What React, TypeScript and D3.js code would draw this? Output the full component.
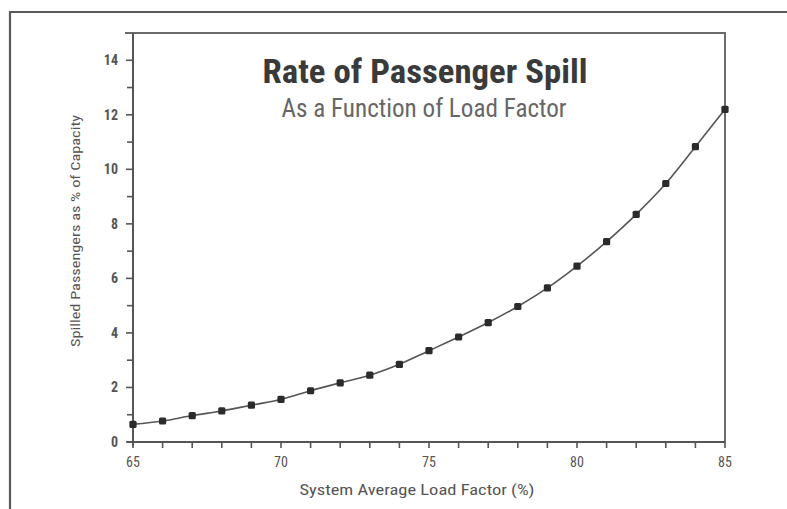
import React from "react";
import { scaleLinear, line, curveMonotoneX, range } from "d3";

// load factor (%) and spilled passengers (% of capacity)
const loadFactor = [65, 66, 67, 68, 69, 70, 71, 72, 73, 74, 75, 76, 77, 78, 79, 80, 81, 82, 83, 84, 85];
const spill = [0.65, 0.77, 0.97, 1.14, 1.35, 1.56, 1.88, 2.17, 2.45, 2.85, 3.35, 3.85, 4.38, 4.97, 5.65, 6.45, 7.35, 8.35, 9.48, 10.83, 12.2];

const xTickLabels = [65, 70, 75, 80, 85];
const yTickLabels = [0, 2, 4, 6, 8, 10, 12, 14];

const title = "Rate of Passenger Spill";
const subtitle = "As a Function of Load Factor";
const xTitle = "System Average Load Factor (%)";
const yTitle = "Spilled Passengers as % of Capacity";

export default function App() {
  const width = 787;
  const height = 509;
  const plot = { left: 133, right: 725, top: 33, bottom: 442 };

  const x = scaleLinear().domain([65, 85]).range([plot.left, plot.right]);
  const y = scaleLinear().domain([0, 15]).range([plot.bottom, plot.top]);

  const points = loadFactor.map((lf, i) => ({ lf, v: spill[i] }));
  const path = line<{ lf: number; v: number }>()
    .x(d => x(d.lf))
    .y(d => y(d.v))
    .curve(curveMonotoneX)(points);

  const font = "'Liberation Sans Narrow', 'Roboto Condensed', 'Liberation Sans', Arial, sans-serif";
  const grey = "#6b6b6b";

  return (
    <svg width={width} height={height} style={{ position: "absolute", left: 0, top: 0 }} fontFamily={font}>
      <rect x={0} y={0} width={width} height={height} fill="#fff" />

      {/* outer frame */}
      <path d={`M10,${height} V12 H${width}`} fill="none" stroke="#5a5a5a" strokeWidth={2.2} />

      {/* plot frame top/right */}
      <path d={`M${plot.left - 8},${plot.top} H${plot.right} V${plot.bottom}`} fill="none" stroke={grey} strokeWidth={2} />

      {/* axes */}
      <line x1={plot.left} x2={plot.left} y1={plot.top} y2={plot.bottom + 4} stroke="#555" strokeWidth={2} />
      <line x1={plot.left - 6} x2={plot.right} y1={plot.bottom} y2={plot.bottom} stroke="#555" strokeWidth={2} />

      {/* y ticks */}
      {range(0, 15).map(v => (
        <line key={`yt${v}`} x1={plot.left - (v % 2 === 0 ? 7 : 6)} x2={plot.left + 1}
          y1={y(v)} y2={y(v)} stroke="#555" strokeWidth={1.6} />
      ))}
      {yTickLabels.map(v => (
        <text key={`yl${v}`} x={plot.left - 15} y={y(v)} dy="0.35em" textAnchor="end"
          fontSize={14} fill="#555" fontWeight="bold">{v}</text>
      ))}

      {/* x ticks */}
      {range(65, 86).map(v => (
        <line key={`xt${v}`} x1={x(v)} x2={x(v)} y1={plot.bottom} y2={plot.bottom + 6}
          stroke="#555" strokeWidth={1.6} />
      ))}
      {xTickLabels.map(v => (
        <text key={`xl${v}`} x={x(v)} y={plot.bottom + 25} textAnchor="middle"
          fontSize={14} fill="#555">{v}</text>
      ))}

      {/* titles */}
      <text x={425} y={83} textAnchor="middle" fontSize={33} fontWeight="bold" fill="#3a3a3a"
        textLength={325} lengthAdjust="spacingAndGlyphs">{title}</text>
      <text x={424} y={117} textAnchor="middle" fontSize={25} fill="#666"
        textLength={285} lengthAdjust="spacingAndGlyphs">{subtitle}</text>

      <text x={417} y={495} textAnchor="middle" fontSize={14} fill="#555"
        textLength={235} lengthAdjust="spacingAndGlyphs">{xTitle}</text>
      <text transform={`translate(80,231) rotate(-90)`} textAnchor="middle" fontSize={13} fill="#555"
        textLength={232} lengthAdjust="spacingAndGlyphs">{yTitle}</text>

      {/* curve and markers */}
      <path d={path ?? ""} fill="none" stroke="#555" strokeWidth={1.6} />
      {points.map((d, i) => (
        <rect key={`p${i}`} x={x(d.lf) - 3.6} y={y(d.v) - 3.6} width={7.2} height={7.2} rx={1.5}
          fill="#2b2b2b" />
      ))}
    </svg>
  );
}
